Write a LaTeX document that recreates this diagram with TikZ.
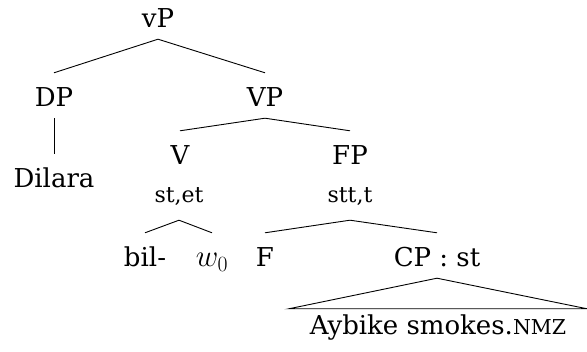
\RequirePackage{fix-cm}
\documentclass[tikz,border=0pt]{standalone}
\usepackage{fontspec}
\setmainfont{DejaVu Serif}
\begin{document}
\begin{tikzpicture}[x=1pt,y=-1pt,
  tn/.style={inner sep=0pt, anchor=base, font=\fontsize{26}{30}\selectfont,
             text height=34pt, text depth=11pt},
  tlab/.style={inner sep=0pt, anchor=base, font=\fontsize{22}{26}\selectfont,
               text height=30pt, text depth=17pt},
  br/.style={line width=0.9pt}]
\useasboundingbox (0,0) rectangle (587,352);

% nodes of the tree
\node[tn] (vP) at (158,28) {vP};
\node[tn] (DP) at (54,107) {DP};
\node[tn] (VP) at (265,107) {VP};
\node[tn] (Dil) at (54,188) {Dilara};
\node[tn] (V) at (180,165) {V};
\node[tlab] (Vt) at (179,203) {st,et};
\node[tn] (FP) at (350,165) {FP};
\node[tlab] (FPt) at (350,203) {stt,t};
\node[tn] (bil) at (145,267) {bil-};
\node[tn, font=\fontsize{31}{36}\selectfont] (w) at (212,267) {$w_0$};
\node[tn] (F) at (265,267) {F};
\node[tn] (CP) at (437,267) {CP : st};
\node[tn, text height=26pt, minimum width=298pt] (Ay) at (438,335)
  {Aybike smokes.{\fontsize{20.5}{24}\selectfont NMZ}};

% branches
\draw[br] (vP.south) -- (DP.north);
\draw[br] (vP.south) -- (VP.north);
\draw[br] (DP.south) -- (Dil.north);
\draw[br] (VP.south) -- (V.north);
\draw[br] (VP.south) -- (FP.north);
\draw[br] (Vt.south) -- (bil.north);
\draw[br] (Vt.south) -- (w.north);
\draw[br] (FPt.south) -- (F.north);
\draw[br] (FPt.south) -- (CP.north);
% roof over the embedded clause
\draw[br] (CP.south) -- (Ay.north west) -- (Ay.north east) -- cycle;
\end{tikzpicture}
\end{document}
